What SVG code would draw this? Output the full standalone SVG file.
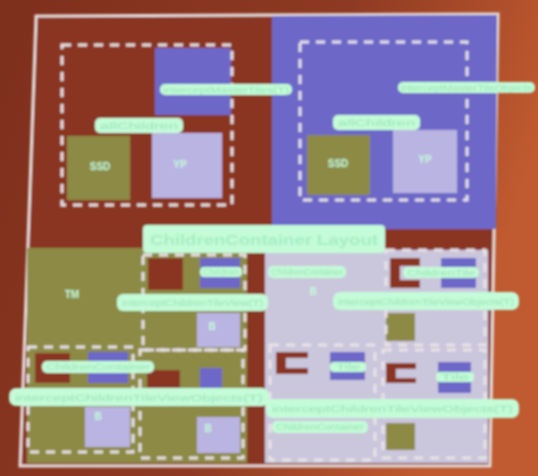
<svg xmlns="http://www.w3.org/2000/svg" width="538" height="476" viewBox="0 0 538 476">
<defs>
<linearGradient id="bg" x1="0" y1="0" x2="1" y2="0.3">
<stop offset="0" stop-color="#7e2f1c"/>
<stop offset="0.6" stop-color="#8e3a22"/>
<stop offset="1" stop-color="#c05a30"/>
</linearGradient>
<filter id="soft" x="-5%" y="-5%" width="110%" height="110%"><feGaussianBlur stdDeviation="0.8"/></filter>
<style>
.frame{fill:#8a3420;stroke:#e4dcdc;stroke-width:3}
.dash{fill:none;stroke:#e8e2e6;stroke-width:3;stroke-dasharray:9 7}
.blue{fill:#6d67c8}
.olive{fill:#8c8a44}
.lav{fill:#bab4e2}
.gray{fill:#cac6dc}
.red{fill:#8a3420}
.bar{fill:#c4fbd8}
.lbl{font-family:"Liberation Sans",Arial,sans-serif;font-size:9px;fill:#98e4b8}
.big{font-family:"Liberation Sans",Arial,sans-serif;font-size:15px;font-weight:bold;fill:#a4eec4}
.in{font-family:"Liberation Sans",Arial,sans-serif;font-size:10px;font-weight:bold;fill:#c4fbda;text-anchor:middle}
</style>
</defs>
<rect width="538" height="476" fill="url(#bg)"/>
<g filter="url(#soft)">
<polygon class="frame" points="36,16 498,14 490,466 20,466"/>

<g id="region-blue"><polygon class="blue" points="272,16 497,15 496,229 272,230"/></g>
<g id="region-olive"><rect class="olive" x="27" y="248" width="220" height="215"/></g>
<g id="region-gray"><rect class="gray" x="265" y="250" width="223" height="213"/></g>

<g id="group-left">
<rect class="blue" x="155" y="48" width="76" height="67"/>
<rect class="dash" x="62" y="45" width="170" height="160"/>
<rect class="bar" x="160" y="84" width="132" height="11" rx="5"/>
<text class="lbl" x="163" y="93" textLength="126" lengthAdjust="spacingAndGlyphs">interceptMasterTiles(T)</text>
<rect class="bar" x="95" y="118" width="88" height="15" rx="5"/>
<text class="lbl" x="100" y="129" textLength="78" lengthAdjust="spacingAndGlyphs">allChildren</text>
<g id="ssd-left"><rect class="olive" x="67" y="136" width="63" height="64"/><text class="in" x="100" y="170">SSD</text></g>
<g id="yp-left"><rect class="lav" x="152" y="133" width="70" height="65"/><text class="in" x="180" y="168">YP</text></g>
</g>

<g id="group-right">
<rect class="dash" x="300" y="42" width="167" height="158"/>
<rect class="bar" x="398" y="82" width="137" height="11" rx="5"/>
<text class="lbl" x="401" y="91" textLength="131" lengthAdjust="spacingAndGlyphs">interceptMasterTileObjects</text>
<rect class="bar" x="333" y="115" width="87" height="15" rx="5"/>
<text class="lbl" x="338" y="126" textLength="77" lengthAdjust="spacingAndGlyphs">allChildren</text>
<g id="ssd-right"><rect class="olive" x="307" y="135" width="63" height="60"/><text class="in" x="338" y="167">SSD</text></g>
<g id="yp-right"><rect class="lav" x="393" y="130" width="64" height="63"/><text class="in" x="425" y="163">YP</text></g>
</g>

<rect class="red" x="383" y="229" width="107" height="19"/>

<g id="tm"><text class="in" x="72" y="298">TM</text></g>

<g id="box-a">
<rect class="red" x="148" y="258" width="35" height="32"/>
<rect class="blue" x="200" y="258" width="40" height="30"/>
<rect class="olive" x="147" y="313" width="50" height="34"/>
<rect class="lav" x="197" y="313" width="43" height="34"/>
<text class="in" x="212" y="330">B</text>
<rect class="dash" x="143" y="255" width="102" height="95"/>
</g>
<rect class="red" x="247" y="310" width="18" height="63"/>
<rect class="red" x="247" y="417" width="18" height="45"/>

<g id="box-b">
<rect class="red" x="35" y="353" width="35" height="30"/>
<rect class="blue" x="88" y="352" width="40" height="31"/>
<rect class="olive" x="33" y="407" width="52" height="40"/>
<rect class="lav" x="85" y="407" width="45" height="40"/>
<text class="in" x="98" y="420">B</text>
<rect class="dash" x="28" y="347" width="105" height="105"/>
</g>

<g id="box-c">
<rect class="red" x="147" y="370" width="33" height="27"/>
<rect class="blue" x="200" y="368" width="22" height="27"/>
<rect class="olive" x="143" y="417" width="54" height="36"/>
<rect class="lav" x="197" y="417" width="43" height="36"/>
<text class="in" x="208" y="432">B</text>
<rect class="dash" x="140" y="350" width="103" height="108"/>
</g>

<g id="box-d">
<rect class="red" x="390" y="258" width="30" height="30"/>
<rect class="gray" x="400" y="266" width="20" height="14"/>
<rect class="blue" x="441" y="258" width="35" height="30"/>
<rect class="olive" x="386" y="313" width="29" height="28"/>
<rect class="dash" x="386" y="250" width="99" height="95"/>
</g>

<g id="box-e">
<rect class="red" x="276" y="352" width="32" height="22"/>
<rect class="gray" x="286" y="358" width="22" height="10"/>
<rect class="blue" x="330" y="352" width="35" height="28"/>
<rect class="dash" x="270" y="345" width="105" height="115"/>
</g>

<g id="box-f">
<rect class="red" x="386" y="363" width="30" height="20"/>
<rect class="gray" x="396" y="369" width="20" height="9"/>
<rect class="blue" x="438" y="362" width="33" height="31"/>
<rect class="olive" x="386" y="423" width="29" height="27"/>
<rect class="dash" x="383" y="350" width="102" height="108"/>
</g>

<g id="title">
<rect class="bar" x="143" y="225" width="242" height="28" rx="4"/>
<text class="big" x="150" y="245" textLength="228" lengthAdjust="spacingAndGlyphs">ChildrenContainer Layout</text>
</g>

<g id="labels">
<rect class="bar" x="268" y="266" width="78" height="12" rx="5"/>
<text class="lbl" x="271" y="275" textLength="72" lengthAdjust="spacingAndGlyphs">ChildrenContainer</text>
<rect class="bar" x="403" y="267" width="76" height="11" rx="5"/>
<text class="lbl" x="407" y="276" textLength="68" lengthAdjust="spacingAndGlyphs">ChildrenTile</text>
<rect class="bar" x="200" y="267" width="42" height="10" rx="4"/>
<text class="lbl" x="203" y="275" textLength="36" lengthAdjust="spacingAndGlyphs">Children</text>
<text class="in" x="313" y="295">B</text>
<rect class="bar" x="117" y="294" width="151" height="17" rx="6"/>
<text class="lbl" x="122" y="306" textLength="141" lengthAdjust="spacingAndGlyphs">interceptChildrenTileView(T)</text>
<rect class="bar" x="333" y="292" width="186" height="18" rx="7"/>
<text class="lbl" x="338" y="305" textLength="176" lengthAdjust="spacingAndGlyphs">interceptChildrenTileViewObjects(T)</text>
<rect class="bar" x="42" y="361" width="112" height="12" rx="5"/>
<text class="lbl" x="46" y="370" textLength="104" lengthAdjust="spacingAndGlyphs">ChildrenContainer</text>
<rect class="bar" x="330" y="362" width="36" height="10" rx="4"/>
<text class="lbl" x="336" y="370" textLength="24" lengthAdjust="spacingAndGlyphs">Tile</text>
<rect class="bar" x="436" y="372" width="38" height="10" rx="4"/>
<text class="lbl" x="441" y="380" textLength="28" lengthAdjust="spacingAndGlyphs">Tile</text>
<rect class="bar" x="9" y="388" width="260" height="18" rx="7"/>
<text class="lbl" x="15" y="401" textLength="248" lengthAdjust="spacingAndGlyphs">interceptChildrenTileViewObjects(T)</text>
<rect class="bar" x="266" y="399" width="253" height="19" rx="7"/>
<text class="lbl" x="272" y="412" textLength="241" lengthAdjust="spacingAndGlyphs">interceptChildrenTileViewObjects(T)</text>
<rect class="bar" x="272" y="421" width="96" height="12" rx="5"/>
<text class="lbl" x="276" y="430" textLength="88" lengthAdjust="spacingAndGlyphs">ChildrenContainer</text>
</g>
</g>
</svg>
